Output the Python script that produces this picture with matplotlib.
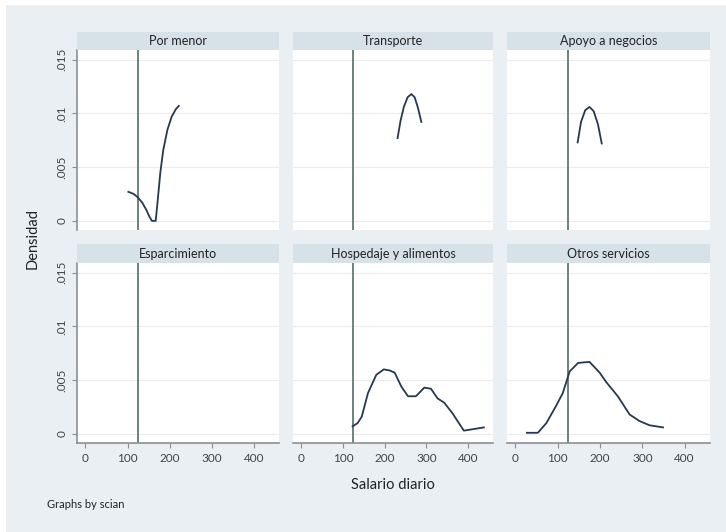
import numpy as np
import matplotlib.pyplot as plt
from matplotlib.patches import Rectangle

plt.rcParams['font.family'] = ['Lato', 'DejaVu Sans']

# panels in display order (scian groups)
panel_names = ["Por menor", "Transporte", "Apoyo a negocios",
               "Esparcimiento", "Hospedaje y alimentos", "Otros servicios"]

# kernel density curves: salario diario, densidad
por_menor_x = [102, 115, 124, 135, 145, 152, 158, 167, 172, 178, 185, 195, 205, 215, 222]
por_menor_y = [0.0027, 0.0025, 0.0022, 0.0017, 0.0010, 0.0004, 0.0, 0.0, 0.0020,
               0.0045, 0.0066, 0.0085, 0.0097, 0.0104, 0.0107]

transporte_x = [231, 238, 246, 255, 264, 272, 280, 288]
transporte_y = [0.0077, 0.0093, 0.0106, 0.0115, 0.0118, 0.0115, 0.0105, 0.0092]

apoyo_x = [147, 155, 165, 175, 185, 195, 204]
apoyo_y = [0.0073, 0.0092, 0.0103, 0.0106, 0.0102, 0.0090, 0.0072]

esparcimiento_x = []
esparcimiento_y = []

hospedaje_x = [123, 135, 145, 160, 180, 198, 212, 224, 240, 256, 275, 295, 311,
               327, 343, 363, 390, 406, 438]
hospedaje_y = [0.0007, 0.0010, 0.0016, 0.0038, 0.0055, 0.0060, 0.0059, 0.0057,
               0.0044, 0.0035, 0.0035, 0.0043, 0.0042, 0.0033, 0.0029, 0.0019,
               0.0003, 0.0004, 0.0006]

otros_x = [27, 53, 73, 96, 112, 128, 148, 175, 199, 215, 242, 270, 293, 317, 349]
otros_y = [0.0001, 0.0001, 0.0010, 0.0026, 0.0038, 0.0058, 0.0066, 0.0067, 0.0057,
           0.0048, 0.0035, 0.0018, 0.0012, 0.0008, 0.0006]

curves = [(por_menor_x, por_menor_y), (transporte_x, transporte_y), (apoyo_x, apoyo_y),
          (esparcimiento_x, esparcimiento_y), (hospedaje_x, hospedaje_y), (otros_x, otros_y)]

salario_minimo = 124
x_ticks = [0, 100, 200, 300, 400]
y_ticks = [0, 0.005, 0.01, 0.015]
y_labels = ["0", ".005", ".01", ".015"]

W, H = 726, 532
bg = '#e9eff3'
strip_c = '#d6e1e8'
line_c = '#27384f'
vline_c = '#46605a'
axis_c = '#8a9096'

fig = plt.figure(figsize=(W / 100, H / 100), dpi=100, facecolor='white')
fig.patches.append(Rectangle((6 / W, 0), 1, 1 - 5 / H, transform=fig.transFigure,
                             facecolor=bg, edgecolor='none', zorder=-10))

col_px = [(77, 279), (293, 493), (507, 710)]
row_px = [(50, 230), (263, 443)]
strip_px = [(32, 50), (244, 263)]


def fig_rect(x0, x1, y0, y1):
    return [x0 / W, 1 - y1 / H, (x1 - x0) / W, (y1 - y0) / H]


for k, name in enumerate(panel_names):
    r, c = divmod(k, 3)
    x0, x1 = col_px[c]
    y0, y1 = row_px[r]
    ax = fig.add_axes(fig_rect(x0, x1, y0, y1))
    ax.set_facecolor('white')
    ax.set_xlim(-20, 460)
    ax.set_ylim(-0.00085, 0.0159)
    ax.set_yticks(y_ticks)
    ax.set_xticks(x_ticks)
    for yt in y_ticks:
        ax.axhline(yt, color='#ececec', lw=0.8, zorder=0)
    ax.axvline(salario_minimo, color=vline_c, lw=1.1, zorder=2)
    xs, ys = curves[k]
    if xs:
        ax.plot(xs, ys, color=line_c, lw=1.3, zorder=3)

    for s in ax.spines.values():
        s.set_visible(False)
    ax.tick_params(colors=axis_c, labelcolor='#444444', labelsize=8.5, length=3.5,
                   direction='out')
    if c == 0:
        ax.spines['left'].set_visible(True)
        ax.spines['left'].set_color(axis_c)
        ax.spines['left'].set_linewidth(1.2)
        ax.set_yticklabels(y_labels, rotation=90, va='center')
    else:
        ax.tick_params(axis='y', left=False, labelleft=False)
    if r == 1:
        ax.spines['bottom'].set_visible(True)
        ax.spines['bottom'].set_color(axis_c)
        ax.spines['bottom'].set_linewidth(1.2)
        ax.set_xticklabels([str(t) for t in x_ticks])
    else:
        ax.tick_params(axis='x', bottom=False, labelbottom=False)

    sy0, sy1 = strip_px[r]
    sax = fig.add_axes(fig_rect(x0, x1, sy0, sy1))
    sax.set_facecolor(strip_c)
    sax.set_xticks([])
    sax.set_yticks([])
    for s in sax.spines.values():
        s.set_visible(False)
    sax.text(0.5, 0.5, name, ha='center', va='center', fontsize=9,
             color='#222222', transform=sax.transAxes)

fig.text(33 / W, 1 - 238 / H, "Densidad", rotation=90, ha='center', va='center',
         fontsize=10.5, color='#222222')
fig.text(393 / W, 1 - 485 / H, "Salario diario", ha='center', va='center',
         fontsize=10.5, color='#222222')
fig.text(47 / W, 1 - 504 / H, "Graphs by scian", ha='left', va='center',
         fontsize=8, color='#222222')

fig.savefig("out.png", dpi=100, facecolor='white')
